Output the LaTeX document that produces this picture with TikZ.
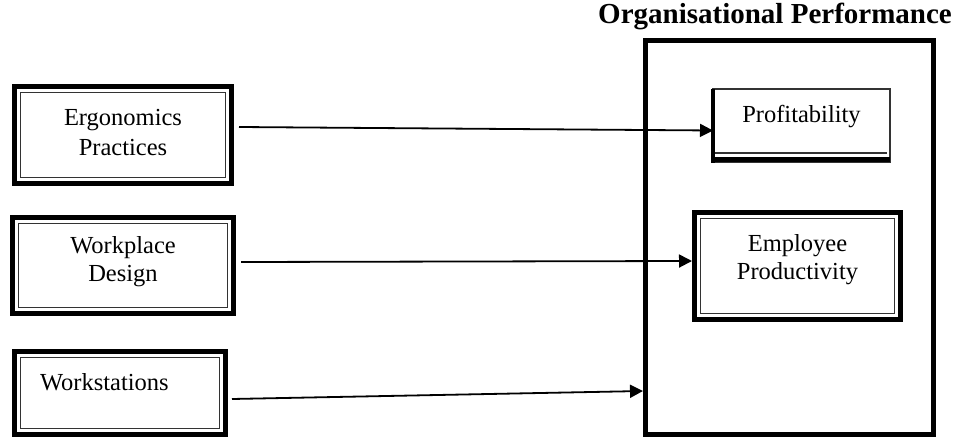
\documentclass[tikz,border=0pt]{standalone}
\usepackage{fontspec}
\setmainfont{Liberation Serif}
\usetikzlibrary{arrows.meta}
\newcommand{\upby}[2]{\raisebox{#1}[\height][\depth]{#2}}
\begin{document}
\begin{tikzpicture}[x=1pt,y=-1pt,
  box/.style={draw=none, inner sep=0pt, outer sep=0pt,
    font=\fontsize{24.5}{28.5}\selectfont, align=center},
  thickln/.style={line width=5pt, line join=miter},
  thinln/.style={line width=1.2pt, draw=black!80},
  conn/.style={line width=1.8pt, -{Triangle[length=13pt,width=13pt]}}]
\useasboundingbox (0,0) rectangle (959,439);

% title
\node[inner sep=0pt, font=\fontsize{29}{34}\selectfont\bfseries] (title) at (775,16) {Organisational Performance};

% outer performance box
\node[draw, line width=5pt, inner sep=0pt, outer sep=0pt, minimum width=288pt, minimum height=394pt] (perf) at (789.5,237.5) {};

% left boxes
\node[box, minimum width=217pt, minimum height=97pt] (erg) at (123,135) {\upby{0pt}{\begin{tabular}{@{}c@{}}Ergonomics\\[2pt]Practices\end{tabular}}};
\node[box, minimum width=221pt, minimum height=96pt] (wp) at (123,265.5) {\upby{3.5pt}{\begin{tabular}{@{}c@{}}Workplace\\Design\end{tabular}}};
\node[box, minimum width=211pt, minimum height=83pt, text width=160pt, inner xsep=25.5pt, align=left] (ws) at (120,393) {\upby{11pt}{Workstations}};

% right boxes
\node[box, minimum width=177pt, minimum height=73pt] (prof) at (801.5,125.5) {\upby{9pt}{Profitability}};
\node[box, minimum width=206pt, minimum height=107pt] (emp) at (797.5,266) {\upby{6pt}{\begin{tabular}{@{}c@{}}Employee\\Productivity\end{tabular}}};

% double frames (thick outside, thin inside)
\foreach \n in {erg,wp,ws,emp}{
  \draw[thickln] (\n.north west) rectangle (\n.south east);
  \draw[thinln] ([shift={(6,6)}]\n.north west) rectangle ([shift={(-6,-6)}]\n.south east);
}

% profitability frame (thin box, thick left and bottom)
\draw[thinln] (prof.north west) rectangle (prof.south east);
\draw[line width=4pt] (prof.north west) -- ([shift={(0,0.5)}]prof.south west);
\draw[line width=5pt] ([shift={(-2,-2.5)}]prof.south west) -- ([shift={(0,-2.5)}]prof.south east);
\draw[thinln] ([shift={(2,-9)}]prof.south west) -- ([shift={(-3,-9)}]prof.south east);

% connectors
\draw[conn] ([shift={(7.5,-8)}]erg.east) -- ([shift={(0,5)}]prof.west);
\draw[conn] ([shift={(7.5,-3.5)}]wp.east) -- ([shift={(-2.5,-5)}]emp.west);
\draw[conn] ([shift={(6.5,6)}]ws.east) -- ([shift={(-2.5,153.5)}]perf.west);
\end{tikzpicture}
\end{document}
